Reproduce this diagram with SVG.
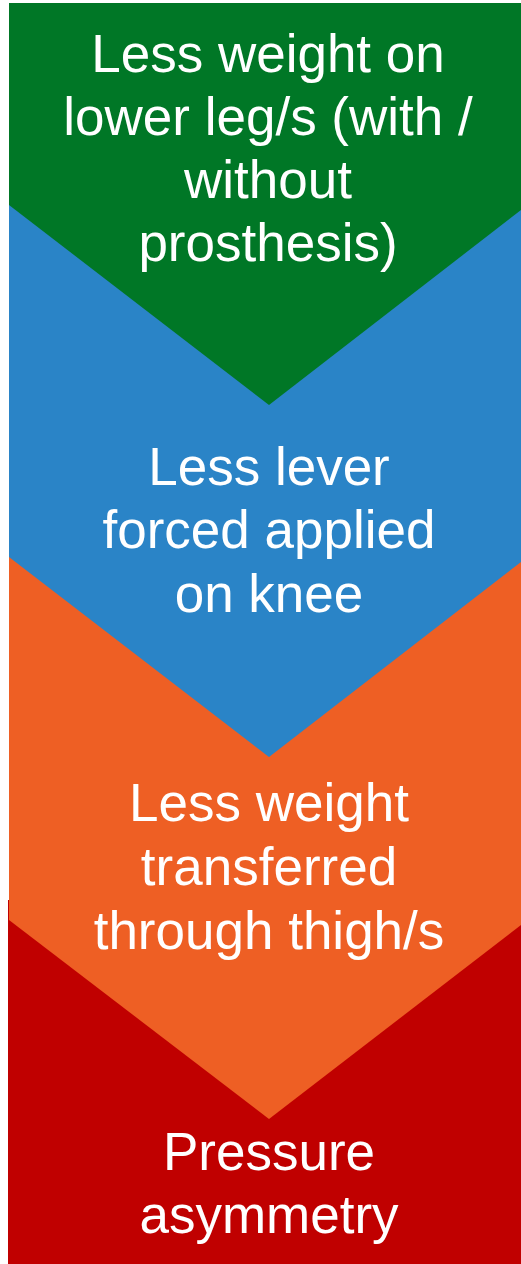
<svg xmlns="http://www.w3.org/2000/svg" width="521" height="1264" viewBox="0 0 521 1264">
<style>
.t{font-family:"Liberation Sans",Arial,sans-serif;font-size:53px;fill:#ffffff;text-anchor:middle}
</style>
<rect x="0" y="0" width="521" height="1264" fill="#ffffff"/>
<g id="node4">
<rect x="8" y="900" width="513" height="364" fill="#C00000"/>
<text class="t" x="269" y="1170">Pressure</text>
<text class="t" x="269" y="1233">asymmetry</text>
</g>
<g id="node3">
<polygon points="9,540 521,540 521,925 269,1119 9,920" fill="#EE5F24"/>
<text class="t" x="269" y="821">Less weight</text>
<text class="t" x="269" y="885">transferred</text>
<text class="t" x="269" y="949">through thigh/s</text>
</g>
<g id="node2">
<polygon points="9,190 521,190 521,562 269,757 9,557" fill="#2A84C7"/>
<text class="t" x="269" y="485">Less lever</text>
<text class="t" x="269" y="548">forced applied</text>
<text class="t" x="269" y="612">on knee</text>
</g>
<g id="node1">
<polygon points="9,3 521,3 521,210 269,405 9,205" fill="#007726"/>
<text class="t" x="268" y="72">Less weight on</text>
<text class="t" x="268" y="135">lower leg/s (with /</text>
<text class="t" x="268" y="198">without</text>
<text class="t" x="268" y="261">prosthesis)</text>
</g>
<g id="connectors"/>
</svg>
